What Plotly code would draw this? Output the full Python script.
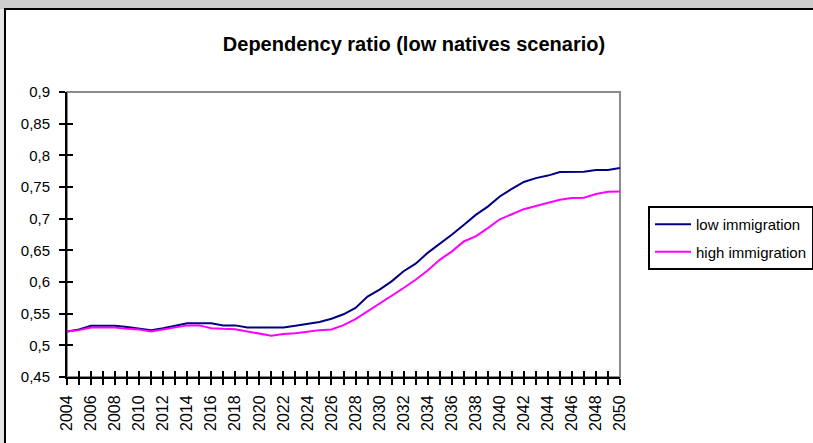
import plotly.graph_objects as go

years = list(range(2004, 2051))
low_immigration = [0.522, 0.525, 0.531, 0.531, 0.531, 0.529, 0.526, 0.524, 0.527, 0.531,
                   0.535, 0.535, 0.535, 0.5315, 0.5315, 0.528, 0.528, 0.528, 0.528, 0.531,
                   0.534, 0.537, 0.542, 0.549, 0.559, 0.577, 0.588, 0.601, 0.617, 0.629,
                   0.646, 0.660, 0.6745, 0.690, 0.706, 0.719, 0.735, 0.747, 0.758, 0.764,
                   0.768, 0.7735, 0.774, 0.774, 0.777, 0.777, 0.780]
high_immigration = [0.522, 0.524, 0.528, 0.528, 0.528, 0.526, 0.525, 0.522, 0.525, 0.528,
                    0.5315, 0.5315, 0.527, 0.526, 0.5255, 0.522, 0.519, 0.515, 0.518, 0.519,
                    0.5215, 0.524, 0.525, 0.532, 0.5415, 0.5536, 0.566, 0.578, 0.5905, 0.6036,
                    0.618, 0.635, 0.648, 0.664, 0.672, 0.685, 0.699, 0.707, 0.715, 0.720,
                    0.7245, 0.730, 0.7325, 0.733, 0.739, 0.7425, 0.743]
y_tick_vals = [0.45, 0.5, 0.55, 0.6, 0.65, 0.7, 0.75, 0.8, 0.85, 0.9]
y_tick_text = ["0,45", "0,5", "0,55", "0,6", "0,65", "0,7", "0,75", "0,8", "0,85", "0,9"]
x_tick_vals = list(range(2004, 2051, 2))
x_tick_text = [str(v) for v in x_tick_vals]

W, H = 813, 443
L, R, T, B = 67, 193, 92, 66
pw, ph = W - L - R, H - T - B

def px_x(x):
    return (x - L) / pw

def px_y(y):
    return (H - B - y) / ph

fig = go.Figure()
fig.add_trace(go.Scatter(x=years, y=low_immigration, mode="lines", name="low immigration",
                         legendgroup="low", line=dict(color="#000080", width=2)))
fig.add_trace(go.Scatter(x=years, y=high_immigration, mode="lines", name="high immigration",
                         legendgroup="high", line=dict(color="#FF00FF", width=2)))
# invisible trace on the overlay axes (crossing ticks)
fig.add_trace(go.Scatter(x=[years[0]], y=[y_tick_vals[0]], xaxis="x2", yaxis="y2",
                         mode="lines", showlegend=False, hoverinfo="skip",
                         line=dict(color="rgba(0,0,0,0)")))

font_family = "Liberation Sans, Arial, sans-serif"
tick_len = 6

fig.update_layout(
    width=W, height=H,
    margin=dict(l=L, r=R, t=T, b=B, autoexpand=False),
    paper_bgcolor="#e4e4e4",
    plot_bgcolor="rgba(0,0,0,0)",
    font=dict(family=font_family, color="black", size=15),
    title=dict(text="<b>Dependency ratio (low natives scenario)</b>",
               x=414 / W, xanchor="center", xref="container",
               y=1 - 44 / H, yanchor="middle", yref="container",
               font=dict(size=20, family=font_family, color="black")),
    showlegend=True,
    legend=dict(x=px_x(648), xanchor="left", y=px_y(206), yanchor="top",
                bgcolor="white", bordercolor="black", borderwidth=2,
                font=dict(size=15, family=font_family, color="black"),
                tracegroupgap=5, itemwidth=36),
    xaxis=dict(range=[2004, 2050], tickvals=x_tick_vals, ticktext=x_tick_text,
               tickangle=-90, ticks="outside", ticklen=tick_len, tickwidth=2, tickcolor="black",
               minor=dict(dtick=1, tick0=2004, ticks="outside", ticklen=tick_len, tickwidth=2, tickcolor="black"),
               showline=True, linecolor="black", linewidth=2, showgrid=False, zeroline=False,
               tickfont=dict(size=16), ticklabelstandoff=4),
    yaxis=dict(range=[0.45, 0.9], tickvals=y_tick_vals, ticktext=y_tick_text,
               ticks="outside", ticklen=tick_len, tickwidth=2, tickcolor="black",
               showline=True, linecolor="black", linewidth=2, showgrid=False, zeroline=False,
               tickfont=dict(size=15), ticklabelstandoff=6),
    xaxis2=dict(range=[2004, 2050], overlaying="x", tickvals=x_tick_vals,
                ticks="inside", ticklen=tick_len, tickwidth=2, tickcolor="black",
                minor=dict(dtick=1, tick0=2004, ticks="inside", ticklen=tick_len, tickwidth=2, tickcolor="black"),
                showticklabels=False, showline=False, showgrid=False, zeroline=False),
    yaxis2=dict(range=[0.45, 0.9], overlaying="y", tickvals=y_tick_vals,
                ticks="inside", ticklen=tick_len, tickwidth=2, tickcolor="black",
                showticklabels=False, showline=False, showgrid=False, zeroline=False),
    shapes=[
        # top gray band
        dict(type="rect", xref="paper", yref="paper", x0=px_x(-5), x1=px_x(W + 5),
             y0=px_y(9), y1=px_y(-5), fillcolor="#cccccc", line=dict(width=0), layer="below"),
        # white chart area with black border
        dict(type="rect", xref="paper", yref="paper", x0=px_x(5), x1=px_x(W + 20),
             y0=px_y(H + 20), y1=px_y(9), fillcolor="white",
             line=dict(color="black", width=2), layer="below"),
        # gray plot area border (top and right)
        dict(type="rect", xref="paper", yref="paper", x0=0, x1=1, y0=0, y1=1,
             fillcolor="rgba(0,0,0,0)", line=dict(color="#8c8c8c", width=2), layer="below"),
    ],
)

fig.write_html("out.html", config={"displayModeBar": False},
               post_script="document.body.style.margin='0';document.body.style.overflow='hidden';")
